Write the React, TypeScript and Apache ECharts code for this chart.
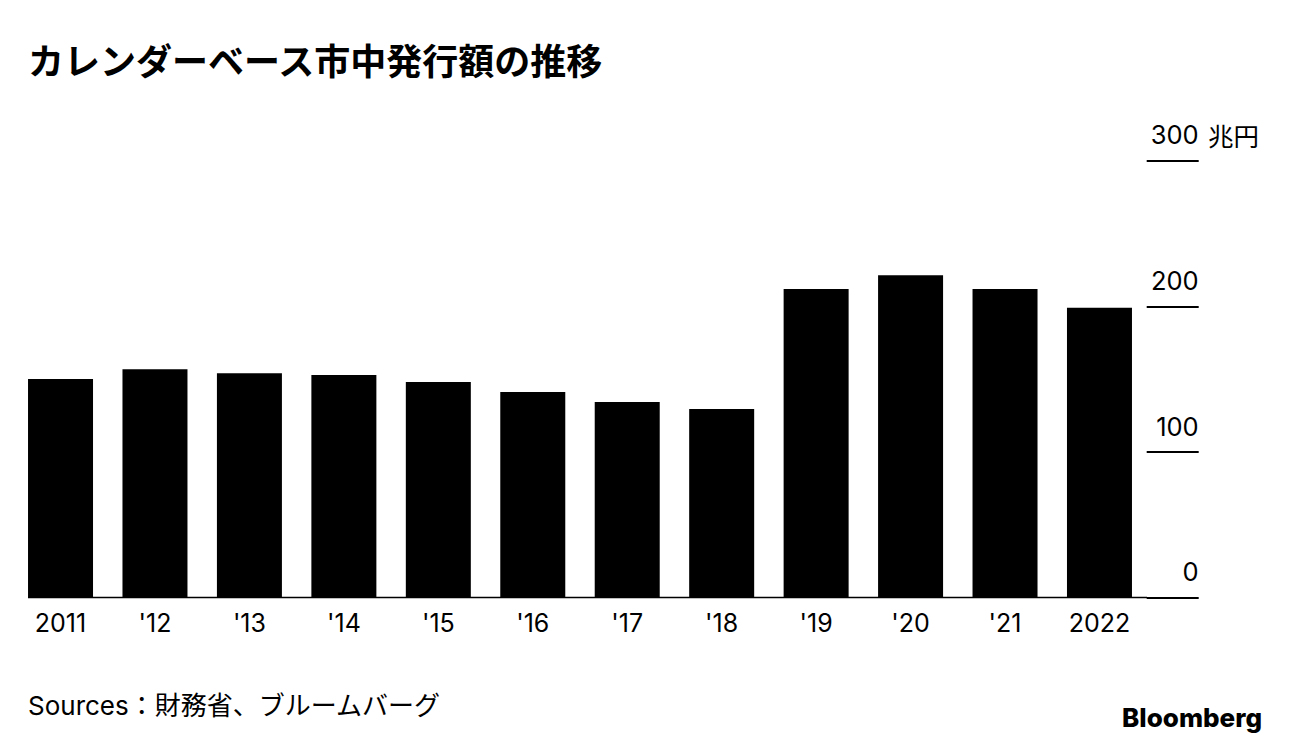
import React, { useEffect, useRef } from "react";
import * as echarts from "echarts";

const categories = ["2011", "'12", "'13", "'14", "'15", "'16", "'17", "'18", "'19", "'20", "'21", "2022"];
const issuance = [150, 156.7, 154, 152.8, 148, 141.1, 134.3, 129.5, 211.9, 221.3, 211.9, 199];
const yTicks = [0, 100, 200, 300];

const titleText = "カレンダーベース市中発行額の推移";
const unitText = "兆円";
const sourceText = "Sources：財務省、ブルームバーグ";
const logoText = "Bloomberg";

const LATIN = "Inter, 'Noto Sans CJK JP', sans-serif";
const CJK = "'Noto Sans CJK JP', Inter, sans-serif";

export default function App() {
  const ref = useRef<HTMLDivElement>(null);
  useEffect(() => {
    document.body.style.margin = "0";
    if (!ref.current) return;
    const chart = echarts.init(ref.current, null, { renderer: "svg" });
    chart.setOption({
      animation: false,
      backgroundColor: "#fff",
      grid: { left: 13.3, right: 142.3, top: 160.7, bottom: 148.5 },
      xAxis: {
        type: "category",
        data: categories,
        axisLine: { show: false },
        axisTick: { show: false },
        axisLabel: { color: "#000", fontSize: 25, fontFamily: LATIN, margin: 13 },
      },
      yAxis: {
        type: "value",
        position: "right",
        min: yTicks[0],
        max: yTicks[yTicks.length - 1],
        interval: 100,
        splitLine: { show: false },
        axisLine: { show: false },
        axisTick: { show: true, length: 52, inside: false, lineStyle: { color: "#000", width: 2 } },
        axisLabel: {
          color: "#000",
          fontSize: 25.5,
          fontFamily: LATIN,
          margin: 52,
          align: "right",
          verticalAlign: "bottom",
          padding: [0, 0, 13, 0],
        },
      },
      series: [
        {
          type: "bar",
          data: issuance,
          barWidth: 65,
          itemStyle: { color: "#000" },
        },
      ],
    });
    const zero = chart.convertToPixel({ gridIndex: 0 }, [0, 0]) as number[];
    const top = chart.convertToPixel({ gridIndex: 0 }, [0, yTicks[yTicks.length - 1]]) as number[];
    chart.setOption({
      graphic: [
        {
          type: "line",
          shape: { x1: 28, y1: zero[1], x2: 1147, y2: zero[1] },
          style: { stroke: "#000", lineWidth: 1.5 },
        },
        {
          type: "text",
          left: 28,
          top: 41,
          style: { text: titleText, fontSize: 36, fontWeight: "bold", fontFamily: CJK, fill: "#000" },
        },
        {
          type: "text",
          x: 1208,
          y: top[1] - 26,
          style: { text: unitText, fontSize: 25.5, fontFamily: CJK, fill: "#000", verticalAlign: "middle" },
        },
        {
          type: "text",
          left: 28,
          top: 692,
          style: { text: sourceText, fontSize: 26, fontFamily: LATIN, fill: "#000" },
        },
        {
          type: "text",
          right: 27,
          top: 704,
          style: { text: logoText, fontSize: 26, fontWeight: 800, fontFamily: LATIN, fill: "#000" },
        },
      ],
    });
    return () => chart.dispose();
  }, []);
  return <div ref={ref} style={{ width: 1289, height: 746 }} />;
}
